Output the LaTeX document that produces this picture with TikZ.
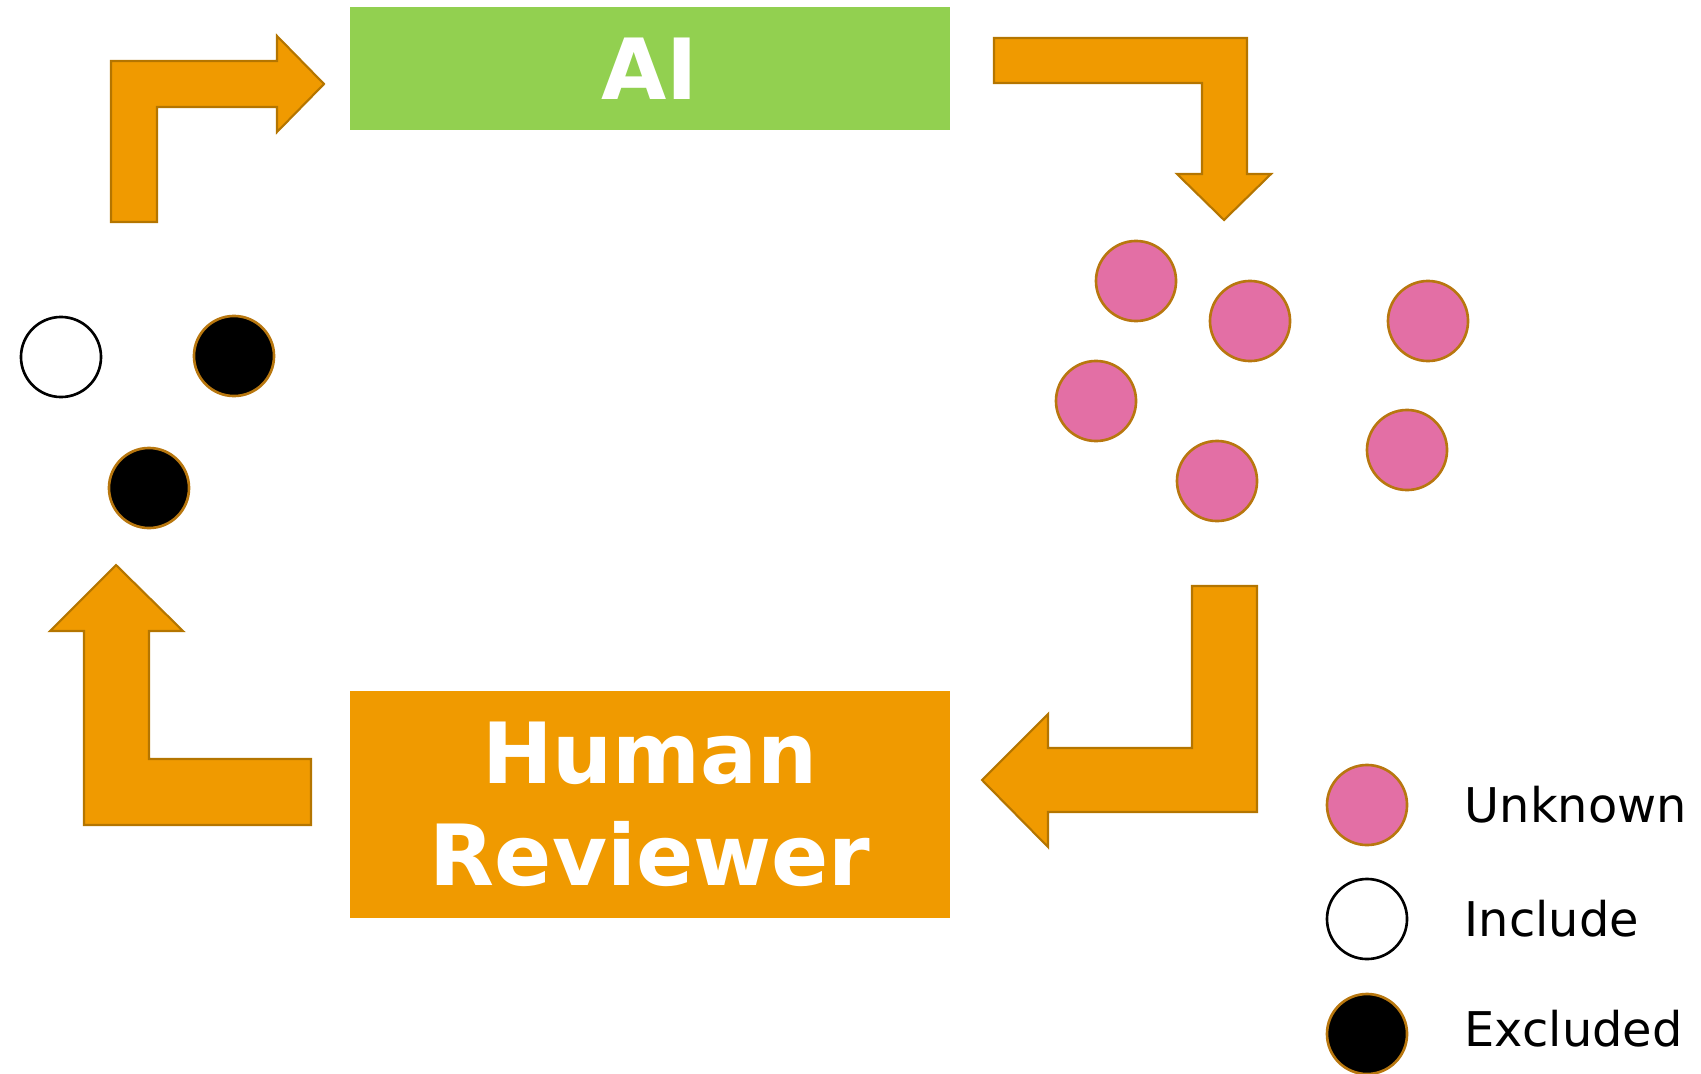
\documentclass[tikz,border=0pt]{standalone}
\usepackage{fontspec}
\setmainfont{DejaVu Sans}
\definecolor{arrowfill}{HTML}{F09A00}
\definecolor{arrowline}{HTML}{B47500}
\definecolor{aigreen}{HTML}{92D050}
\definecolor{dotpink}{HTML}{E36FA5}
\definecolor{dotline}{HTML}{B8770F}
\begin{document}
\begin{tikzpicture}[x=0.01cm,y=-0.01cm,
  blockarrow/.style={fill=arrowfill,draw=arrowline,line width=0.6pt,line join=miter},
  stagebox/.style={rectangle,inner sep=0pt,minimum width=6cm,text=white,
    font=\fontsize{24}{29}\selectfont\bfseries,align=center},
  dot/.style={circle,inner sep=0pt,minimum size=0.8cm,line width=0.75pt},
  unknowndot/.style={dot,fill=dotpink,draw=dotline},
  includedot/.style={dot,fill=white,draw=black},
  excludeddot/.style={dot,fill=black,draw=dotline},
  legendtext/.style={anchor=base west,inner sep=0pt,font=\fontsize{13.6}{16}\selectfont}]
\useasboundingbox (0,0) rectangle (1701,1073);

% stage boxes
\node[stagebox,fill=aigreen,minimum height=1.23cm] (ai) at (650,68.5) {AI};
\node[stagebox,fill=arrowfill,minimum height=2.27cm] (human) at (650,804.5) {Human\\Reviewer};

% bent block arrows of the cycle
\draw[blockarrow] (111,222) -- (111,61) -- (277,61) -- (277,36) -- (324,84)
  -- (277,132) -- (277,107) -- (157,107) -- (157,222) -- cycle;
\draw[blockarrow] (994,38) -- (1247,38) -- (1247,174) -- (1271,174) -- (1224,220)
  -- (1177,174) -- (1202,174) -- (1202,83) -- (994,83) -- cycle;
\draw[blockarrow] (1192,586) -- (1257,586) -- (1257,812) -- (1048,812) -- (1048,847)
  -- (982,780) -- (1048,714) -- (1048,748) -- (1192,748) -- cycle;
\draw[blockarrow] (116,565) -- (183,631) -- (149,631) -- (149,759) -- (311,759)
  -- (311,825) -- (84,825) -- (84,631) -- (50,631) -- cycle;

% reviewed records
\node[includedot] (inc1) at (61,357) {};
\node[excludeddot] (exc1) at (234,356) {};
\node[excludeddot] (exc2) at (149,488) {};

% records not yet reviewed
\node[unknowndot] (unk1) at (1136,281) {};
\node[unknowndot] (unk2) at (1250,321) {};
\node[unknowndot] (unk3) at (1428,321) {};
\node[unknowndot] (unk4) at (1096,401) {};
\node[unknowndot] (unk5) at (1217,481) {};
\node[unknowndot] (unk6) at (1407,450) {};

% legend
\node[unknowndot] (legunk) at (1367,805) {};
\node[includedot] (leginc) at (1367,919) {};
\node[excludeddot] (legexc) at (1367,1034) {};
\node[legendtext] (labunk) at (1464,822) {Unknown};
\node[legendtext] (labinc) at (1464,936) {Include};
\node[legendtext] (labexc) at (1464,1046) {Excluded};
\end{tikzpicture}
\end{document}
